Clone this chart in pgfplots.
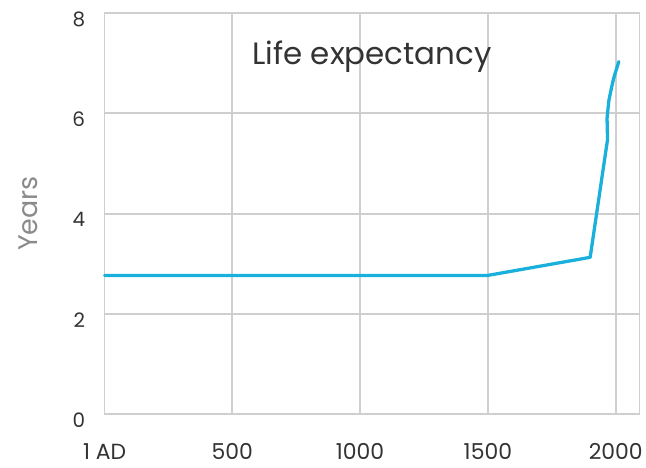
\documentclass[border=0pt]{standalone}
\usepackage{fontspec}
\setmainfont{Poppins}
\usepackage{pgfplots}
\pgfplotsset{compat=1.18}
\definecolor{lifeblue}{HTML}{1AB0DC}
\definecolor{gridgray}{HTML}{CFCFCF}
\definecolor{txt}{HTML}{333333}
\definecolor{lbl}{HTML}{8A8A8A}
\begin{document}
\begin{tikzpicture}
\begin{axis}[
    scale only axis,
    width=537pt, height=403pt,
    xmin=1, xmax=2093,
    ymin=0, ymax=8,
    xtick={1,500,1000,1500,2000},
    xticklabels={1 AD,500,1000,1500,2000},
    ytick={0,2,4,6,8},
    major tick length=0pt,
    grid=major,
    grid style={gridgray, line width=1.8pt},
    axis line style={gridgray, line width=1.8pt},
    tick label style={text=txt},
    /pgf/number format/assume math mode=true,
    yticklabel style={font=\fontsize{20}{22}\selectfont, xshift=-16pt, yshift=-6pt},
    xticklabel style={font=\fontsize{22}{24}\selectfont, anchor=base, yshift=-45pt},
    ylabel={Years},
    ylabel style={font=\fontsize{27}{29}\selectfont, text=lbl, yshift=28pt},
    clip=false,
]
\addplot[lifeblue, line width=3.3pt, line join=round, line cap=round] coordinates {
    (1,2.77) (1500,2.77) (1900,3.13) (1968,5.48) (1966,5.90)
    (1973,6.25) (1983,6.50) (1992,6.70) (2012,7.03)
};
\node[font=\fontsize{31}{33}\selectfont, text=txt, anchor=base] at (axis cs:1047,6.97) {Life expectancy};
\end{axis}
\path[use as bounding box] (-105pt,-53pt) rectangle (541pt,416pt);
\end{tikzpicture}
\end{document}
